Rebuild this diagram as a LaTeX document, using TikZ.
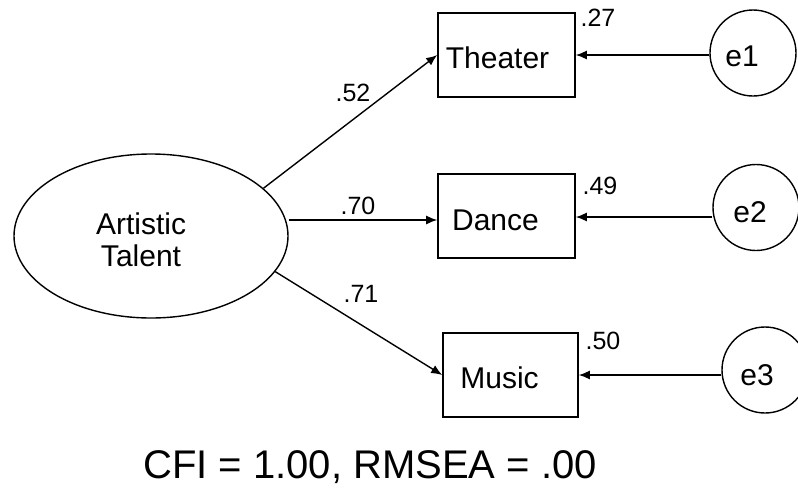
\documentclass[tikz,border=0pt]{standalone}
\usepackage{fontspec}
\setmainfont{Liberation Sans}
\usetikzlibrary{shapes.geometric,arrows.meta}

\tikzset{
  obsbox/.style={draw, line width=1.6pt, minimum width=137pt, minimum height=84pt, inner sep=0pt},
  errcirc/.style={draw, circle, line width=1.4pt, minimum size=86pt, inner sep=0pt},
  latent/.style={draw, ellipse, line width=1.4pt, minimum width=274pt, minimum height=164pt, inner sep=0pt},
  boxtext/.style={font=\fontsize{30}{36}\selectfont},
  path/.style={line width=1.4pt, -{Latex[length=11pt,width=9pt]}},
  coef/.style={font=\fontsize{25}{30}\selectfont, inner sep=0pt}
}

\begin{document}
\begin{tikzpicture}[x=1pt,y=-1pt]
  \useasboundingbox (0,0) rectangle (798,491);

  % latent factor
  \node[latent, label={[boxtext, align=center, xshift=-10pt, yshift=-4pt]center:Artistic\\[-4pt]Talent}] (AT) at (151,236) {};

  % observed indicators
  \node[obsbox, label={[boxtext, xshift=-9pt, yshift=-3pt]center:Theater}] (T) at (506.5,55) {};
  \node[obsbox, label={[boxtext, xshift=-11pt, yshift=-4pt]center:Dance}] (D) at (506.5,216) {};
  \node[obsbox, minimum width=135pt, label={[boxtext, xshift=-11pt, yshift=-3pt]center:Music}] (M) at (510.5,375) {};

  % error terms
  \node[errcirc, label={[boxtext, xshift=-11pt, yshift=-3pt]center:e1}] (e1) at (753,53) {};
  \node[errcirc, label={[boxtext, xshift=-6pt, yshift=-5pt]center:e2}] (e2) at (756,207.5) {};
  \node[errcirc, label={[boxtext, xshift=-8pt, yshift=-5pt]center:e3}] (e3) at (765,370) {};

  % factor loadings
  \coordinate (dIn) at ([yshift=-4pt]D.west);
  \draw[path] (AT.23) -- (T.west);
  \draw[path] (AT.east |- dIn) -- (dIn);
  \draw[path] (AT.-16) -- (M.west);

  % error paths
  \draw[path] (e1.west |- T.east) -- (T.east);
  \coordinate (dOut) at ([yshift=-1pt]D.east);
  \draw[path] (e2.west |- dOut) -- (dOut);
  \draw[path] (e3.west |- M.east) -- (M.east);

  % standardized coefficients
  \node[coef] (l52) at (353,93) {.52};
  \node[coef] (l70) at (358,206) {.70};
  \node[coef] (l71) at (361,294) {.71};
  \node[coef] (r27) at (598,18) {.27};
  \node[coef] (r49) at (600,186) {.49};
  \node[coef] (r50) at (603,341) {.50};

  % fit indices
  \node[font=\fontsize{40}{48}\selectfont, inner sep=0pt] (fit) at (370,467) {CFI = 1.00, RMSEA = .00};
\end{tikzpicture}
\end{document}
